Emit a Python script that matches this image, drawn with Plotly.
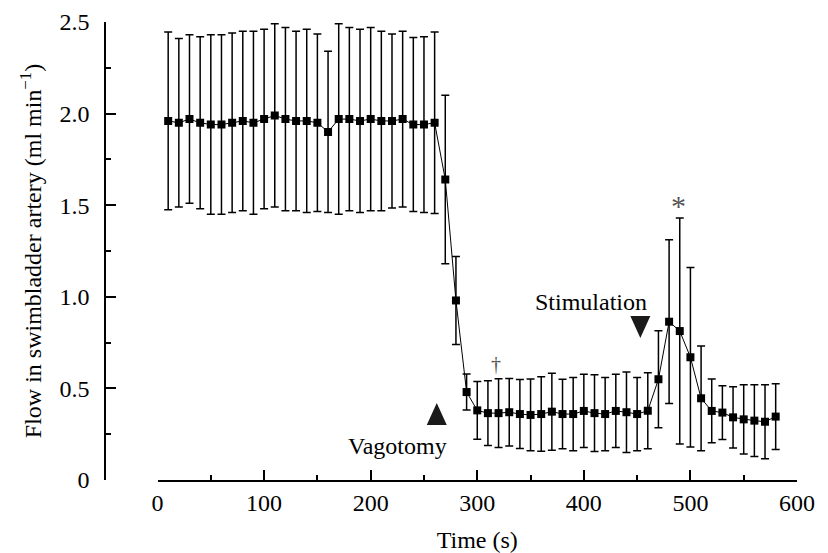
import plotly.graph_objects as go

time_s = list(range(10, 590, 10))
flow = [1.96, 1.95, 1.97, 1.95, 1.94, 1.94, 1.95, 1.96, 1.95, 1.97,
        1.99, 1.97, 1.96, 1.96, 1.95, 1.90, 1.97, 1.97, 1.96, 1.97,
        1.96, 1.96, 1.97, 1.94, 1.94, 1.95, 1.64, 0.98, 0.48, 0.38,
        0.365, 0.365, 0.37, 0.36, 0.355, 0.36, 0.373, 0.36, 0.36, 0.377,
        0.365, 0.36, 0.377, 0.37, 0.36, 0.378, 0.55, 0.864, 0.813, 0.67,
        0.446, 0.377, 0.368, 0.342, 0.331, 0.324, 0.318, 0.346]
flow_err = [0.485, 0.46, 0.46, 0.47, 0.49, 0.49, 0.49, 0.49, 0.50, 0.49,
            0.50, 0.50, 0.49, 0.50, 0.485, 0.44, 0.52, 0.50, 0.50, 0.50,
            0.49, 0.475, 0.48, 0.475, 0.48, 0.495, 0.46, 0.24, 0.098, 0.158,
            0.177, 0.187, 0.184, 0.188, 0.196, 0.203, 0.21, 0.19, 0.20, 0.20,
            0.21, 0.20, 0.20, 0.22, 0.20, 0.208, 0.265, 0.447, 0.617, 0.49,
            0.286, 0.174, 0.147, 0.167, 0.189, 0.196, 0.202, 0.18]

x_ticks = [0, 100, 200, 300, 400, 500, 600]
y_ticks = [0, 0.5, 1.0, 1.5, 2.0, 2.5]
y_tick_text = ["0", "0.5", "1.0", "1.5", "2.0", "2.5"]

FONT = "Liberation Serif"
FS = 24

fig = go.Figure()
fig.add_trace(go.Scatter(
    x=time_s, y=flow, mode="lines+markers",
    line=dict(color="black", width=1),
    marker=dict(symbol="square", size=8, color="black"),
    error_y=dict(type="data", array=flow_err, visible=True,
                 color="black", thickness=1.5, width=4),
    showlegend=False, hoverinfo="skip",
))

tri_up = "M -10,-11 L 10,-11 L 0,11 Z"
tri_down = "M -10,11 L 10,11 L 0,-11 Z"
fig.add_shape(type="path", xref="x", yref="y", xsizemode="pixel", ysizemode="pixel",
              xanchor=262, yanchor=0.36, path=tri_up,
              fillcolor="#1a1a1a", line=dict(width=0))
fig.add_shape(type="path", xref="x", yref="y", xsizemode="pixel", ysizemode="pixel",
              xanchor=453, yanchor=0.835, path=tri_down,
              fillcolor="#1a1a1a", line=dict(width=0))

fig.add_annotation(x=224.7, y=0.185, xref="x", yref="y", text="Vagotomy",
                   showarrow=False, font=dict(family=FONT, size=FS, color="black"))
fig.add_annotation(x=407, y=0.97, xref="x", yref="y", text="Stimulation",
                   showarrow=False, font=dict(family=FONT, size=FS, color="black"))
fig.add_annotation(x=317.6, y=0.635, xref="x", yref="y", text="†",
                   showarrow=False, font=dict(family=FONT, size=20, color="#555555"))
fig.add_annotation(x=488.5, y=1.50, xref="x", yref="y", text="*",
                   showarrow=False, font=dict(family=FONT, size=30, color="#555555"))

fig.update_layout(
    width=828, height=553,
    margin=dict(l=105, r=31, t=22, b=73),
    paper_bgcolor="white", plot_bgcolor="white",
    font=dict(family=FONT, size=FS, color="black"),
    xaxis=dict(
        domain=[0.0759, 1], range=[0, 600], anchor="y", automargin=False,
        showline=True, linecolor="black", linewidth=1.5,
        ticks="inside", ticklen=10, tickwidth=1.5, tickcolor="black",
        tickvals=x_ticks, showgrid=False, zeroline=False,
        minor=dict(ticks="inside", dtick=50, ticklen=5, tickwidth=1.5,
                   tickcolor="black", showgrid=False),
        title=dict(text="Time (s)", font=dict(family=FONT, size=FS), standoff=18),
        ticklabelstandoff=0,
    ),
    yaxis=dict(
        domain=[0, 1], range=[0, 2.5], anchor="free", position=0, automargin=False,
        showline=True, linecolor="black", linewidth=1.5,
        ticks="inside", ticklen=10, tickwidth=1.5, tickcolor="black",
        tickvals=y_ticks, ticktext=y_tick_text, showgrid=False, zeroline=False,
        minor=dict(ticks="inside", dtick=0.25, ticklen=5, tickwidth=1.5,
                   tickcolor="black", showgrid=False),
        title=dict(text="Flow in swimbladder artery (ml min<sup>−1</sup>)",
                   font=dict(family=FONT, size=FS), standoff=10),
        ticklabelstandoff=10,
    ),
)

fig.write_html("out.html")
